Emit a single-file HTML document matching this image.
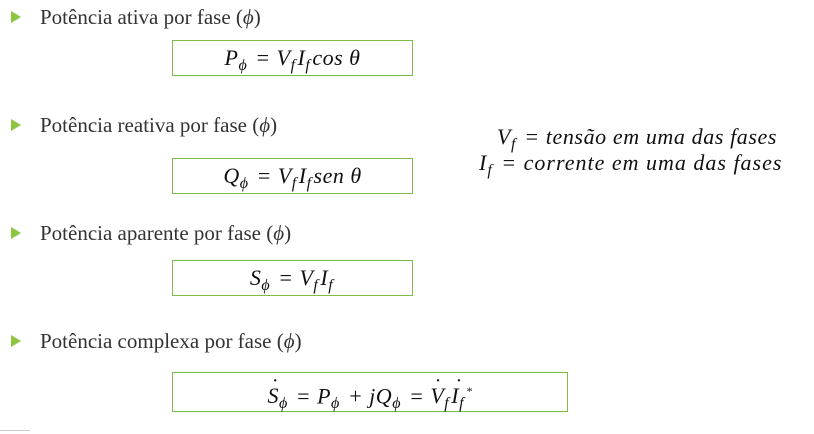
<!DOCTYPE html>
<html><head><meta charset="utf-8"><style>
body{margin:0;width:814px;height:434px;background:#fff;position:relative;overflow:hidden;font-family:"Liberation Serif","DejaVu Serif",serif;color:#333}
.t{position:absolute;left:40px;font-size:21px;line-height:22px;white-space:nowrap}
.b{position:absolute;left:11px;width:0;height:0;border-top:6px solid transparent;border-bottom:6px solid transparent;border-left:10px solid #8cc63f}
.box{position:absolute;border:1.5px solid #7dbb4a;box-sizing:border-box;font-style:italic;font-size:22px;letter-spacing:0.5px;text-align:center;white-space:nowrap;color:#111}
sub{font-size:16px;vertical-align:-5px;margin-right:2px}
.r{position:absolute;font-style:italic;font-size:22px;letter-spacing:0.6px;white-space:nowrap;color:#111}
.d{position:relative}
.d::before{content:"˙";position:absolute;left:4px;top:-14px;font-style:normal}
</style></head><body>
<div class="b" style="top:11px"></div><div class="t" style="top:6px">Potência ativa por fase (<i>ϕ</i>)</div>
<div class="box" style="left:172px;top:40px;width:241px;height:36px;line-height:33px">P<sub>ϕ</sub> = V<sub>f</sub>I<sub>f</sub>cos θ</div>
<div class="b" style="top:119px"></div><div class="t" style="top:114px">Potência reativa por fase (<i>ϕ</i>)</div>
<div class="box" style="left:172px;top:158px;width:241px;height:36px;line-height:33px">Q<sub>ϕ</sub> = V<sub>f</sub>I<sub>f</sub>sen θ</div>
<div class="b" style="top:227px"></div><div class="t" style="top:222px">Potência aparente por fase (<i>ϕ</i>)</div>
<div class="box" style="left:172px;top:260px;width:241px;height:36px;line-height:33px">S<sub>ϕ</sub> = V<sub>f</sub>I<sub>f</sub></div>
<div class="b" style="top:335px"></div><div class="t" style="top:330px">Potência complexa por fase (<i>ϕ</i>)</div>
<div class="box" style="left:172px;top:372px;width:396px;height:40px;line-height:36px"><span class="d">S</span><sub>ϕ</sub> = P<sub>ϕ</sub> + jQ<sub>ϕ</sub> = <span class="d">V</span><sub>f</sub><span class="d">I</span><sub>f</sub><sup style="font-size:12px">*</sup></div>
<div class="r" style="left:497px;top:124px">V<sub>f</sub> = tensão em uma das fases</div>
<div class="r" style="left:479px;top:150px;letter-spacing:1px">I<sub>f</sub> = corrente em uma das fases</div>
<div style="position:absolute;left:0;top:430px;width:30px;height:1px;background:#ccc"></div>
</body></html>
